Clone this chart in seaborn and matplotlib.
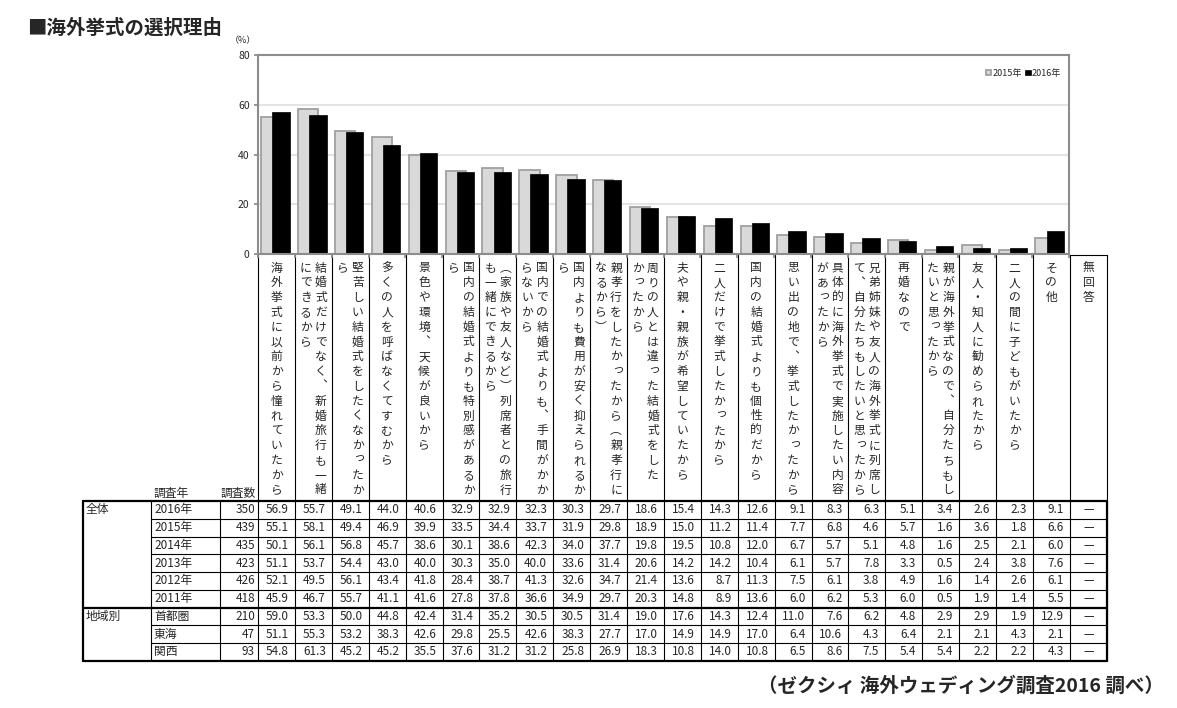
import numpy as np
import pandas as pd
import seaborn as sns
import matplotlib.pyplot as plt

# reasons (columns of vertical text split by "\n", right column first)
reasons = [
    "海外挙式に以前から憧れていたから",
    "結婚式だけでなく、新婚旅行も一緒\nにできるから",
    "堅苦しい結婚式をしたくなかったか\nら",
    "多くの人を呼ばなくてすむから",
    "景色や環境、天候が良いから",
    "国内の結婚式よりも特別感があるか\nら",
    "（家族や友人など）列席者との旅行\nも一緒にできるから",
    "国内での結婚式よりも、手間がかか\nらないから",
    "国内よりも費用が安く抑えられるか\nら",
    "親孝行をしたかったから（親孝行に\nなるから）",
    "周りの人とは違った結婚式をした\nかったから",
    "夫や親・親族が希望していたから",
    "二人だけで挙式したかったから",
    "国内の結婚式よりも個性的だから",
    "思い出の地で、挙式したかったから",
    "具体的に海外挙式で実施したい内容\nがあったから",
    "兄弟姉妹や友人の海外挙式に列席し\nて、自分たちもしたいと思ったから",
    "再婚なので",
    "親が海外挙式なので、自分たちもし\nたいと思ったから",
    "友人・知人に勧められたから",
    "二人の間に子どもがいたから",
    "その他",
]
no_answer = "無回答"

row_groups = ["全体", "", "", "", "", "", "地域別", "", ""]
row_names = ["2016年", "2015年", "2014年", "2013年", "2012年", "2011年", "首都圏", "東海", "関西"]
n_resp = [350, 439, 435, 423, 426, 418, 210, 47, 93]

v2016 = [56.9, 55.7, 49.1, 44.0, 40.6, 32.9, 32.9, 32.3, 30.3, 29.7, 18.6, 15.4, 14.3, 12.6, 9.1, 8.3, 6.3, 5.1, 3.4, 2.6, 2.3, 9.1]
v2015 = [55.1, 58.1, 49.4, 46.9, 39.9, 33.5, 34.4, 33.7, 31.9, 29.8, 18.9, 15.0, 11.2, 11.4, 7.7, 6.8, 4.6, 5.7, 1.6, 3.6, 1.8, 6.6]
v2014 = [50.1, 56.1, 56.8, 45.7, 38.6, 30.1, 38.6, 42.3, 34.0, 37.7, 19.8, 19.5, 10.8, 12.0, 6.7, 5.7, 5.1, 4.8, 1.6, 2.5, 2.1, 6.0]
v2013 = [51.1, 53.7, 54.4, 43.0, 40.0, 30.3, 35.0, 40.0, 33.6, 31.4, 20.6, 14.2, 14.2, 10.4, 6.1, 5.7, 7.8, 3.3, 0.5, 2.4, 3.8, 7.6]
v2012 = [52.1, 49.5, 56.1, 43.4, 41.8, 28.4, 38.7, 41.3, 32.6, 34.7, 21.4, 13.6, 8.7, 11.3, 7.5, 6.1, 3.8, 4.9, 1.6, 1.4, 2.6, 6.1]
v2011 = [45.9, 46.7, 55.7, 41.1, 41.6, 27.8, 37.8, 36.6, 34.9, 29.7, 20.3, 14.8, 8.9, 13.6, 6.0, 6.2, 5.3, 6.0, 0.5, 1.9, 1.4, 5.5]
v_shuto = [59.0, 53.3, 50.0, 44.8, 42.4, 31.4, 35.2, 30.5, 30.5, 31.4, 19.0, 17.6, 14.3, 12.4, 11.0, 7.6, 6.2, 4.8, 2.9, 2.9, 1.9, 12.9]
v_tokai = [51.1, 55.3, 53.2, 38.3, 42.6, 29.8, 25.5, 42.6, 38.3, 27.7, 17.0, 14.9, 14.9, 17.0, 6.4, 10.6, 4.3, 6.4, 2.1, 2.1, 4.3, 2.1]
v_kansai = [54.8, 61.3, 45.2, 45.2, 35.5, 37.6, 31.2, 31.2, 25.8, 26.9, 18.3, 10.8, 14.0, 10.8, 6.5, 8.6, 7.5, 5.4, 5.4, 2.2, 2.2, 4.3]
table_rows = [v2016, v2015, v2014, v2013, v2012, v2011, v_shuto, v_tokai, v_kansai]

W, H = 1177, 708
sns.set_theme(style="white")
plt.rcParams["font.family"] = ["Noto Sans CJK JP", "DejaVu Sans"]

fig = plt.figure(figsize=(W / 100, H / 100), dpi=100)

# overlay in pixel coordinates for the table part
tab = fig.add_axes([0, 0, 1, 1])
tab.set_xlim(0, W)
tab.set_ylim(H, 0)
tab.axis("off")

# bar chart
x0, x1, y_top, y_bot = 258, 1069, 55, 254
ax = fig.add_axes([x0 / W, 1 - y_bot / H, (x1 - x0) / W, (y_bot - y_top) / H])
idx = np.arange(len(reasons))
df15 = pd.DataFrame({"pos": idx - 0.135, "val": v2015})
df16 = pd.DataFrame({"pos": idx + 0.125, "val": v2016})
sns.barplot(data=df15, x="pos", y="val", native_scale=True, width=0.55, color="#d9d9d9",
            saturation=1, edgecolor="#a0a0a0", linewidth=1.3, errorbar=None, label="2015年", ax=ax)
sns.barplot(data=df16, x="pos", y="val", native_scale=True, width=0.47, color="black",
            saturation=1, edgecolor="black", linewidth=0.5, errorbar=None, label="2016年", ax=ax)
ax.set_xlim(-0.5, len(reasons) - 0.5)
ax.set_ylim(0, 80)
ax.set_yticks([0, 20, 40, 60, 80])
ax.set_xticks(np.arange(len(reasons) + 1) - 0.5)
ax.set_xticklabels([])
ax.set_xlabel("")
ax.set_ylabel("")
ax.yaxis.grid(True, color="#e4e4e4", linewidth=1.5)
ax.set_axisbelow(True)
for s in ax.spines.values():
    s.set_color("#8c8c8c")
    s.set_linewidth(1.5)
ax.tick_params(axis="y", left=True, length=3, color="#8c8c8c", labelsize=7.5, pad=3)
ax.tick_params(axis="x", bottom=True, length=3, color="#8c8c8c")
ax.legend(loc="upper right", bbox_to_anchor=(0.995, 0.95), frameon=False, ncol=2,
          fontsize=6.5, handlelength=0.6, handleheight=0.6, handletextpad=0.15,
          columnspacing=0.4, borderaxespad=0)

# title, unit and source
tab.text(27, 28, "■海外挙式の選択理由", fontsize=14, fontweight="bold", va="center", ha="left")
tab.text(243, 41, "（%）", fontsize=6.5, va="center", ha="center")
tab.text(1164, 686, "（ゼクシィ 海外ウェディング調査2016 調べ）", fontsize=14, fontweight="bold",
         va="center", ha="right")

# column geometry
cw = 36.9
ncols = len(reasons) + 1
xe = [x0 + cw * i for i in range(ncols + 1)]
lab_top, tbl_top, rh = 255, 501, 17.75
tbl_bot = tbl_top + rh * len(row_names)
thin, thick = 0.8, 1.6

# vertical label cells
for x in xe:
    tab.plot([x, x], [lab_top, tbl_bot], color="black", lw=thin)
tab.plot([xe[-2], xe[-1]], [lab_top, lab_top], color="black", lw=thin)

vert_forms = {"（": "\ufe35", "）": "\ufe36", "、": "\ufe11"}
small = set("っゃゅょぁぃぅぇぉ")
step = 14.8
def vertical_text(text, cx):
    cols = text.split("\n")
    gap = 15
    for j, line in enumerate(cols):
        x = cx + (len(cols) - 1) * gap / 2 - j * gap
        for k, ch in enumerate(line):
            y = 268 + k * step
            dx = dy = 0
            if ch in small:
                dx, dy = 1.5, -1.5
            tab.text(x + dx, y + dy, vert_forms.get(ch, ch), fontsize=8.5,
                     ha="center", va="center")

for i, r in enumerate(reasons + [no_answer]):
    vertical_text(r, (xe[i] + xe[i + 1]) / 2)

# data table
lx, cx1, cx2 = 83, 151, 220
tab.plot([lx, xe[-1]], [tbl_top, tbl_top], color="black", lw=thick)
tab.plot([lx, xe[-1]], [tbl_bot, tbl_bot], color="black", lw=thick)
for r in range(1, len(row_names)):
    y = tbl_top + rh * r
    if r == 6:
        tab.plot([lx, xe[-1]], [y, y], color="black", lw=thick)
    else:
        tab.plot([cx1, xe[-1]], [y, y], color="black", lw=thin)
for x, w in [(lx, thick), (cx1, thin), (cx2, thin)]:
    tab.plot([x, x], [tbl_top, tbl_bot], color="black", lw=w)
tab.plot([xe[-1], xe[-1]], [tbl_top, tbl_bot], color="black", lw=thick)

tab.text(154, 493, "調査年", fontsize=8.5, ha="left", va="center")
tab.text(256, 493, "調査数", fontsize=8.5, ha="right", va="center")

for r, vals in enumerate(table_rows):
    y = tbl_top + rh * (r + 0.5)
    if row_groups[r]:
        tab.text(86, y, row_groups[r], fontsize=8.5, ha="left", va="center")
    tab.text(154, y, row_names[r], fontsize=8.5, ha="left", va="center")
    tab.text(255, y, str(n_resp[r]), fontsize=8.5, ha="right", va="center")
    for i, v in enumerate(vals):
        tab.text(xe[i + 1] - 6, y, f"{v:.1f}", fontsize=8.5, ha="right", va="center")
    tab.text((xe[-2] + xe[-1]) / 2, y, "—", fontsize=8.5, ha="center", va="center")

fig.savefig("out.png", dpi=100)
